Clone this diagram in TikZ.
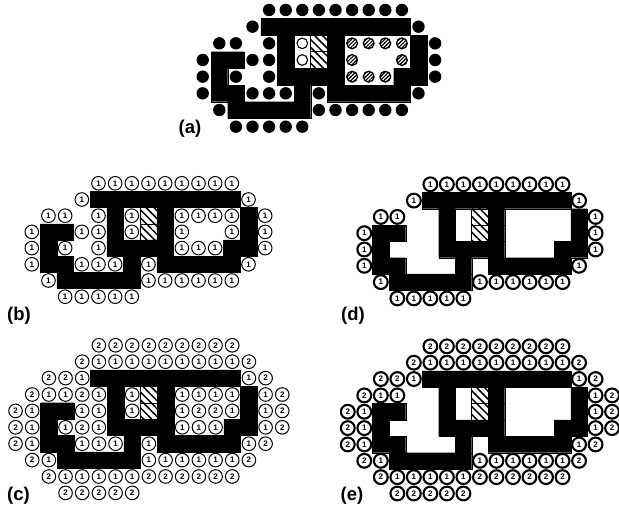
\documentclass[tikz,border=0pt]{standalone}
\usepackage{fontspec}
\setmainfont{Liberation Sans}
\usetikzlibrary{patterns.meta}
\newcommand{\wallcells}{1/4/12,2/5/5,2/8/8,2/13/13,3/1/2,3/5/5,3/8/8,3/13/13,4/1/1,4/5/8,4/12/13,5/1/2,5/6/6,5/8/12,6/2/6}
\newcommand{\hatchcells}{7/2,7/3}
\newcommand{\nichecells}{6/2,6/3}
\newcommand{\poolcells}{4/2,3/3,4/3,2/4,4/4,3/5,4/5,5/5,7/5}
\newcommand{\roomcells}{9/2,10/2,11/2,12/2,9/3,12/3,9/4,10/4,11/4}
\newcommand{\firstring}{4/0,5/0,6/0,7/0,8/0,9/0,10/0,11/0,12/0,3/1,13/1,1/2,2/2,14/2,0/3,14/3,0/4,14/4,0/5,13/5,1/6,7/6,8/6,9/6,10/6,11/6,12/6,2/7,3/7,4/7,5/7,6/7}
\newcommand{\secondring}{4/-1,5/-1,6/-1,7/-1,8/-1,9/-1,10/-1,11/-1,12/-1,3/0,13/0,1/1,2/1,14/1,0/2,15/2,-1/3,15/3,-1/4,15/4,-1/5,14/5,0/6,13/6,1/7,7/7,8/7,9/7,10/7,11/7,12/7,2/8,3/8,4/8,5/8,6/8}
\newcommand{\drawplan}{%
\path[fill=black,draw=black,line width=.2pt] foreach \r/\a/\b in \wallcells {(\a-.5,\r-.5) rectangle (\b+.5,\r+.5)};
\foreach \c/\r in \hatchcells {\path[hatchcell] (\c-.5,\r-.5) rectangle (\c+.5,\r+.5);}
}
\tikzset{
hatchcell/.style={draw=black,line width=.4pt,pattern={Lines[angle=-45,distance=5.6pt,line width=1.5pt]},pattern color=black},
dotcell/.style={circle,fill=black,inner sep=0pt,minimum size=12.4pt},
nichecell/.style={circle,draw=black,line width=1.1pt,fill=white,inner sep=0pt,minimum size=10.6pt},
roomcell/.style={circle,draw=black,line width=1.3pt,inner sep=0pt,minimum size=10.8pt,pattern={Lines[angle=45,distance=2.6pt,line width=1.15pt]}},
thincell/.style={circle,draw=black,line width=1pt,fill=white,inner sep=0pt,minimum size=13.6pt,font=\fontsize{8}{8}\selectfont\bfseries},
thickcell/.style={circle,draw=black,line width=2.1pt,fill=white,inner sep=0pt,minimum size=13.8pt,font=\fontsize{8}{8}\selectfont\bfseries},
panellabel/.style={font=\fontsize{18.5}{18.5}\selectfont\bfseries,inner sep=0pt}
}
\begin{document}
\begin{tikzpicture}[x=1pt,y=-1pt]
\useasboundingbox (0,0) rectangle (619,505);
% panel a
\begin{scope}[shift={(202.7,10)},x=16.6pt,y=-16.67pt]
\drawplan
\foreach \c/\r in \firstring {\node[dotcell] (a-\c-\r) at (\c,\r) {};}
\foreach \c/\r in \poolcells {\node[dotcell] (a-\c-\r) at (\c,\r) {};}
\foreach \c/\r in \nichecells {\node[nichecell] (a-\c-\r) at (\c,\r) {};}
\foreach \c/\r in \roomcells {\node[roomcell] (a-\c-\r) at (\c,\r) {};}
\end{scope}
\node[panellabel] (labela) at (190,128.7) {(a)};
% panel b
\begin{scope}[shift={(31.8,183.3)},x=16.67pt,y=-16.2pt]
\drawplan
\foreach \c/\r in \firstring {\node[thincell] (b-\c-\r) at (\c,\r) {1};}
\foreach \c/\r in \poolcells {\node[thincell] (b-\c-\r) at (\c,\r) {1};}
\foreach \c/\r in \nichecells {\node[thincell] (b-\c-\r) at (\c,\r) {1};}
\foreach \c/\r in \roomcells {\node[thincell] (b-\c-\r) at (\c,\r) {1};}
\end{scope}
\node[panellabel] (labelb) at (19,315.5) {(b)};
% panel d
\begin{scope}[shift={(364.3,184.3)},x=16.52pt,y=-16.3pt]
\drawplan
\foreach \c/\r in \firstring {\node[thickcell] (d-\c-\r) at (\c,\r) {1};}
\end{scope}
\node[panellabel] (labeld) at (353,316) {(d)};
% panel c
\begin{scope}[shift={(32.2,361.7)},x=16.67pt,y=-16.4pt]
\drawplan
\foreach \c/\r in \firstring {\node[thincell] (c-\c-\r) at (\c,\r) {1};}
\foreach \c/\r in \secondring {\node[thincell] (c-\c-\r) at (\c,\r) {2};}
\foreach \c/\r in \poolcells {\node[thincell] (c-\c-\r) at (\c,\r) {1};}
\foreach \c/\r in \nichecells {\node[thincell] (c-\c-\r) at (\c,\r) {1};}
\foreach \c/\r in \roomcells {\node[thincell] (c-\c-\r) at (\c,\r) {1};}
\foreach \c/\r in {3/2,3/4,10/3,11/3} {\node[thincell] (c-\c-\r) at (\c,\r) {2};}
\end{scope}
\node[panellabel] (labelc) at (18.5,495.5) {(c)};
% panel e
\begin{scope}[shift={(364.3,362.7)},x=16.52pt,y=-16.35pt]
\drawplan
\foreach \c/\r in \firstring {\node[thickcell] (e-\c-\r) at (\c,\r) {1};}
\foreach \c/\r in \secondring {\node[thickcell] (e-\c-\r) at (\c,\r) {2};}
\end{scope}
\node[panellabel] (labele) at (352,496) {(e)};
\end{tikzpicture}
\end{document}
